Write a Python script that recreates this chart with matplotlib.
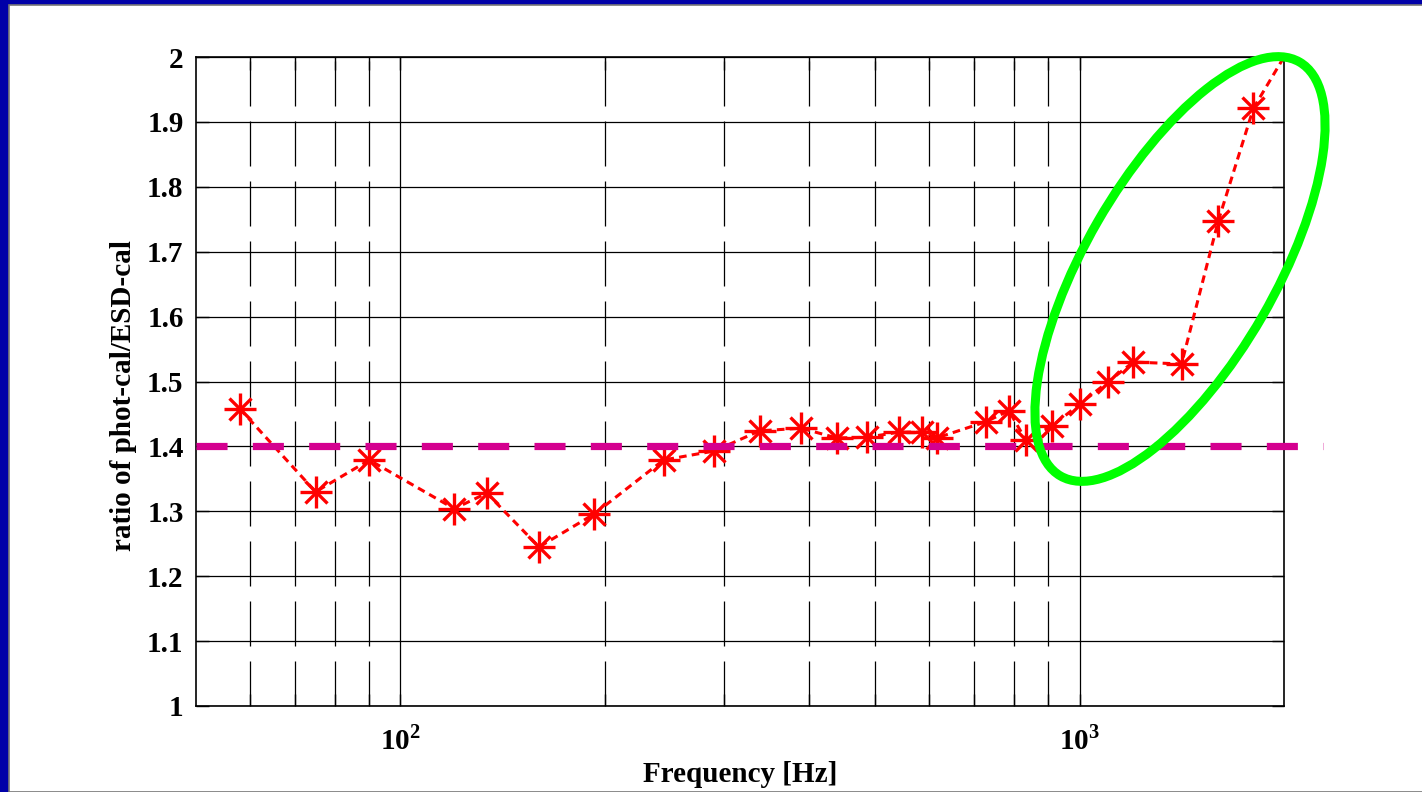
from matplotlib import pyplot as plt
from matplotlib.patches import Ellipse, Rectangle
import numpy as np

plt.rcParams['font.family'] = ['Liberation Serif', 'DejaVu Serif']
plt.rcParams['font.weight'] = 'bold'
plt.rcParams['mathtext.fontset'] = 'custom'
plt.rcParams['mathtext.rm'] = 'Liberation Serif:bold'
plt.rcParams['mathtext.bf'] = 'Liberation Serif:bold'

# measured ratio vs frequency
freq = [58, 75, 90, 120, 134, 160, 193, 244, 290, 338, 389, 439, 486, 542,
        587, 616, 728, 787, 833, 910, 1000, 1100, 1200, 1413, 1600, 1803]
ratio = [1.458, 1.330, 1.379, 1.304, 1.328, 1.245, 1.296, 1.379, 1.393, 1.424,
         1.428, 1.413, 1.414, 1.422, 1.422, 1.413, 1.438, 1.455, 1.410, 1.431,
         1.465, 1.499, 1.530, 1.527, 1.747, 1.921]
tail_freq = [1803, 2000]
tail_ratio = [1.921, 2.0]

ref_level = 1.4
ref_span = [50, 2280]

y_ticks = [1, 1.1, 1.2, 1.3, 1.4, 1.5, 1.6, 1.7, 1.8, 1.9, 2]
y_labels = ['1', '1.1', '1.2', '1.3', '1.4', '1.5', '1.6', '1.7', '1.8', '1.9', '2']
x_ticks = [100, 1000]
x_labels = ['$10^{2}$', '$10^{3}$']
minor_x = [60, 70, 80, 90, 200, 300, 400, 500, 600, 700, 800, 900]

W, H = 1422, 792
fig = plt.figure(figsize=(W / 100, H / 100), dpi=100)
fig.patch.set_facecolor('#0000A8')
# white slide area with thin gray border
fig.patches.append(Rectangle((9 / W, 0), 1, (H - 5) / H, transform=fig.transFigure,
                             facecolor='white', edgecolor='#777777', lw=1.2, zorder=-10))

ax = fig.add_axes([196 / W, 86 / H, 1088 / W, 649 / H])
ax.set_xscale('log')
ax.set_xlim(50, 2000)
ax.set_ylim(1, 2)

# grid: solid horizontals and decade lines, long dashes for minor decades
for y in y_ticks:
    ax.axhline(y, color='black', lw=0.9, zorder=1)
for x in x_ticks:
    ax.axvline(x, color='black', lw=0.9, zorder=1)
for x in minor_x:
    ax.axvline(x, color='black', lw=0.9, ls=(0, (36, 12)), zorder=1)

ax.plot(freq, ratio, color='red', lw=2.2, ls=(0, (2.5, 1.7)), zorder=3)
ax.plot(tail_freq, tail_ratio, color='red', lw=2.2, ls=(0, (2.5, 1.7)), zorder=3)
ax.plot(freq, ratio, ls='none', marker='+', ms=23, mew=2.4, color='red', zorder=3)
ax.plot(freq, ratio, ls='none', marker='x', ms=16.5, mew=2.4, color='red', zorder=3)

ax.plot(ref_span, [ref_level, ref_level], color='#D4008F', lw=5.2,
        ls=(0, (4.3, 3.5)), solid_capstyle='butt', dash_capstyle='butt',
        clip_on=False, zorder=4)

ax.set_yticks(y_ticks)
ax.set_yticklabels(y_labels)
ax.set_xticks(x_ticks)
ax.set_xticklabels(x_labels)
ax.set_xticks(minor_x, minor=True)
ax.set_xticklabels([], minor=True)
ax.tick_params(axis='both', which='both', direction='in', length=9, width=1,
               top=True, right=True, labelsize=21, pad=9)
ax.tick_params(axis='x', which='major', pad=14)
for lbl in ax.get_yticklabels():
    lbl.set_fontweight('bold')
for s in ax.spines.values():
    s.set_linewidth(1.2)

ax.set_xlabel('Frequency [Hz]', fontsize=21, fontweight='bold', labelpad=4)
ax.set_ylabel('ratio of phot-cal/ESD-cal', fontsize=21, fontweight='bold')
ax.yaxis.set_label_coords(-0.054, 0.478)

# highlight ring around the high-frequency rise
ring = Ellipse((11.8, (H - 269) / 100), 4.78, 1.9, angle=60,
               transform=fig.dpi_scale_trans, fill=False,
               edgecolor='#00FF00', lw=6.5, zorder=10)
fig.patches.append(ring)

fig.savefig('out.png', dpi=100)
